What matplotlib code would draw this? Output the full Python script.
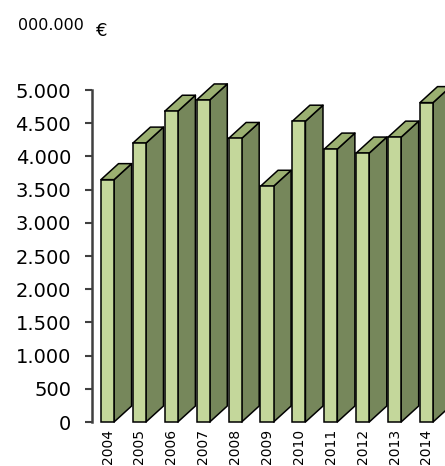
import matplotlib
matplotlib.use("Agg")
import matplotlib.pyplot as plt
from matplotlib.patches import Polygon
import numpy as np

# Dati (migliaia di euro)
anni = ["2004", "2005", "2006", "2007", "2008", "2009",
        "2010", "2011", "2012", "2013", "2014"]
valori = [3650, 4200, 4680, 4850, 4270, 3550, 4530, 4110, 4050, 4290, 4810]
yticks = [0, 500, 1000, 1500, 2000, 2500, 3000, 3500, 4000, 4500, 5000]

# Colori stile 3D
c_fronte = "#c4d79b"
c_lato = "#76875b"
c_sopra = "#9bb071"

larg = 0.41      # larghezza faccia frontale
dx = 0.55        # profondita' (unita' x)
dy = 241         # profondita' (unita' valore)

fig = plt.figure(figsize=(4.45, 4.66), dpi=100)
ax = fig.add_axes([92 / 445, 1 - 422 / 466, 1 - 92 / 445, (422 - 90) / 466])

x = np.arange(len(anni))
for xi, v in zip(x, valori):
    xl = xi - larg / 2
    xr = xi + larg / 2
    # lato destro
    ax.add_patch(Polygon([(xr, 0), (xr + dx, dy), (xr + dx, v + dy), (xr, v)],
                         closed=True, facecolor=c_lato, edgecolor="black",
                         linewidth=1.1, joinstyle="round", clip_on=False))
    # faccia superiore
    ax.add_patch(Polygon([(xl, v), (xr, v), (xr + dx, v + dy), (xl + dx, v + dy)],
                         closed=True, facecolor=c_sopra, edgecolor="black",
                         linewidth=1.1, joinstyle="round", clip_on=False))

ax.bar(x, valori, width=larg, color=c_fronte, edgecolor="black",
       linewidth=1.1, clip_on=False, zorder=3)

ax.set_xlim(-0.486, 10.58)
ax.set_ylim(0, 5000)
ax.set_yticks(yticks)
ax.set_yticklabels([f"{t:,}".replace(",", ".") for t in yticks], fontsize=14)
ax.set_xticks(x)
ax.set_xticklabels(anni, rotation=90, fontsize=10)

for s in ["top", "right", "bottom"]:
    ax.spines[s].set_visible(False)
ax.spines["left"].set_color("#404040")
ax.spines["left"].set_linewidth(1.8)
ax.tick_params(axis="y", length=5, width=1.5, color="#404040", pad=10)
ax.tick_params(axis="x", length=0, pad=5)
ax.set_facecolor("none")

# Titolo unita'
fig.text(18 / 445, 1 - 18 / 466, "000.000", fontsize=11.5, va="top", ha="left")
fig.text(96 / 445, 1 - 22 / 466, "€", fontsize=13, va="top", ha="left")

fig.savefig("out.png", dpi=100)
